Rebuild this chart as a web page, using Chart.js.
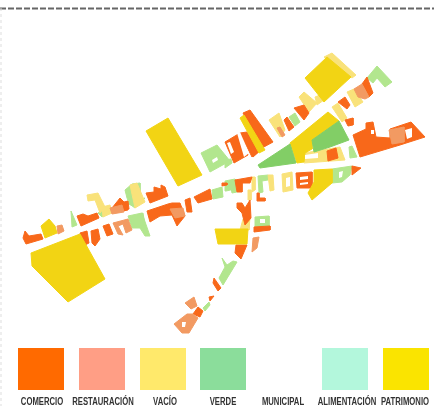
<!DOCTYPE html>
<html>
<head>
<meta charset="utf-8">
<script src="https://cdn.jsdelivr.net/npm/chart.js@4"></script>
<style>
html, body { margin: 0; padding: 0; background: #fff; overflow: hidden; }
#wrap { position: relative; width: 434px; height: 406px; overflow: hidden; }
#mapa { position: absolute; left: 0; top: 0; filter: blur(0.6px); }
.sw { position: absolute; top: 348px; height: 42px; }
.lb { position: absolute; top: 395px; width: 100px; text-align: center; white-space: nowrap;
  font: bold 11px "Liberation Sans", sans-serif; color: #333; transform: scaleX(0.7); }
</style>
</head>
<body>
<div id="wrap"><canvas id="mapa" width="434" height="406"></canvas></div>
<script>
// legend
var categorias = ['COMERCIO', 'RESTAURACIÓN', 'VACÍO', 'VERDE', 'MUNICIPAL', 'ALIMENTACIÓN', 'PATRIMONIO'];
var coloresLeyenda = ['#ff6a00', '#ff9e85', '#ffe96b', '#8bdd9b', '#ffffff', '#b3f7dc', '#fae400'];
var swatchX = [18, 79, 140, 200, 261, 322, 383];
var labelX = [42, 103, 165, 223, 283, 347, 405];

// blocks, [x, y] in picture units
var verdeClaro = [
  [[201,153],[217,145],[230,161],[210,172]],
  [[125,190],[132,184],[140,183],[140,200],[130,205],[127,198]],
  [[98,213],[105,208],[108,213],[102,217]],
  [[71,211],[77,225],[72,227]],
  [[128,216],[142,213],[150,236],[145,236],[140,228],[132,228]],
  [[130,218],[143,213],[145,225],[135,227]],
  [[128,203],[145,198],[135,208]],
  [[212,190],[222,187],[223,197],[213,199]],
  [[230,183],[236,181],[237,192],[232,193]],
  [[225,160],[231,159],[232,163],[225,168]],
  [[225,181],[235,179],[235,189],[226,191]],
  [[258,176],[268,175],[268,180],[262,181],[263,192],[259,193]],
  [[289,117],[295,113],[300,122],[295,126]],
  [[367,78],[377,66],[392,82],[385,87],[377,78],[373,83]],
  [[332,169],[352,166],[350,175],[342,182],[332,183]],
  [[349,147],[352,146],[357,157],[350,158]],
  [[255,217],[269,216],[269,226],[255,227]],
  [[222,258],[227,265],[233,261],[237,262],[223,285],[219,278],[225,267]],
  [[203,308],[209,302],[210,305],[205,311]]
];
var palido = [
  [[87,195],[98,193],[105,207],[100,213],[95,200],[88,201]],
  [[102,207],[110,205],[112,213],[103,217]],
  [[130,185],[137,183],[145,202],[135,208]],
  [[243,219],[250,217],[249,230],[240,230]],
  [[248,190],[251,190],[251,200],[248,200]],
  [[269,120],[279,113],[285,130],[280,137]],
  [[268,175],[273,175],[274,190],[270,191]],
  [[282,174],[292,172],[293,190],[283,192]],
  [[299,97],[304,92],[317,103],[309,112]],
  [[315,97],[320,95],[324,100],[317,105]],
  [[324,57],[332,53],[356,75],[352,78]],
  [[347,92],[354,89],[363,102],[355,107]],
  [[332,107],[338,103],[347,118],[342,122]],
  [[304,153],[340,147],[345,160],[304,163]],
  [[252,177],[255,177],[255,190],[252,192]]
];
var comercio = [
  [[23,238],[25,231],[29,236],[41,234],[43,239],[26,244]],
  [[77,216],[83,214],[88,216],[97,213],[99,218],[81,226]],
  [[112,208],[120,198],[125,203],[128,210],[113,213]],
  [[120,203],[128,201],[129,209],[122,211]],
  [[146,193],[154,192],[154,187],[161,189],[161,185],[165,187],[168,196],[150,203]],
  [[80,233],[87,231],[89,243],[85,245]],
  [[91,231],[98,229],[100,239],[95,246],[92,243]],
  [[103,226],[109,224],[113,234],[107,236]],
  [[147,211],[168,204],[172,203],[180,203],[185,216],[177,226],[172,215],[160,216],[150,222]],
  [[185,200],[190,198],[192,212],[187,212]],
  [[194,197],[210,189],[212,199],[198,203]],
  [[222,183],[227,183],[227,185],[222,186]],
  [[235,180],[252,177],[250,183],[242,183],[242,192],[237,192]],
  [[237,203],[242,203],[245,208],[250,200],[251,218],[245,225],[242,213],[237,208]],
  [[257,193],[259,193],[259,198],[265,198],[265,201],[257,201]],
  [[225,142],[240,133],[248,155],[234,163]],
  [[240,133],[247,132],[260,150],[252,157]],
  [[243,113],[250,110],[273,142],[262,148]],
  [[250,143],[259,138],[261,150],[253,157]],
  [[284,120],[287,117],[294,127],[289,131]],
  [[294,108],[304,105],[309,113],[304,120]],
  [[362,84],[367,77],[373,93],[369,97]],
  [[338,102],[345,97],[350,105],[347,109]],
  [[345,120],[353,118],[353,125],[348,126]],
  [[353,135],[366,129],[366,123],[373,122],[376,137],[390,138],[390,129],[411,122],[425,137],[400,145],[360,157]],
  [[327,151],[336,148],[338,158],[328,161]],
  [[352,166],[361,168],[352,175]],
  [[296,173],[312,172],[312,188],[297,188]],
  [[254,227],[270,226],[270,230],[254,232]],
  [[236,245],[247,245],[241,259],[235,253]],
  [[214,278],[221,288],[218,291],[213,283]],
  [[209,297],[214,296],[210,301]],
  [[193,314],[198,307],[203,311],[200,317]]
];
var salmon = [
  [[57,226],[62,225],[64,231],[58,234]],
  [[110,208],[122,205],[124,212],[112,214]],
  [[113,223],[128,219],[132,230],[126,233],[123,224],[118,226],[123,235],[118,234]],
  [[170,209],[183,208],[185,216],[175,218]],
  [[277,128],[280,127],[285,135],[282,137]],
  [[354,89],[362,84],[369,97],[365,99],[358,97]],
  [[389,130],[404,127],[404,142],[392,144]],
  [[253,238],[259,237],[257,248],[252,252]],
  [[185,303],[194,297],[197,306],[191,309]],
  [[174,324],[187,314],[193,314],[198,318],[189,333],[182,333]]
];
var patrimonio = [
  [[31,253],[80,234],[105,279],[68,302],[32,266]],
  [[146,131],[168,118],[202,175],[178,186]],
  [[305,78],[327,57],[351,77],[324,102]],
  [[41,226],[49,219],[55,226],[57,233],[45,238]],
  [[240,118],[244,115],[265,150],[259,153]],
  [[290,143],[328,112],[339,121],[312,140],[312,149],[305,153],[304,162],[297,163]],
  [[314,170],[332,169],[332,183],[312,200],[308,193],[314,182]],
  [[215,229],[248,229],[247,244],[218,244]]
];
var verde = [
  [[258,165],[290,144],[296,163],[260,168]],
  [[312,140],[339,121],[349,140],[330,147],[314,152]]
];
var blanco = [
  [[227,143],[230,142],[234,152],[231,154]],
  [[237,133],[240,132],[249,153],[244,157]],
  [[212,160],[217,157],[218,160],[213,163]],
  [[286,178],[290,177],[290,186],[286,187]],
  [[300,177],[308,176],[308,179],[300,180]],
  [[300,183],[308,182],[308,184],[300,185]],
  [[305,155],[318,153],[318,158],[305,159]],
  [[405,130],[412,128],[412,137],[407,139]],
  [[371,130],[374,130],[374,134],[371,134]],
  [[182,322],[186,322],[185,327],[182,327]],
  [[339,172],[343,171],[342,177],[339,178]],
  [[260,219],[265,219],[265,223],[260,223]]
];
var lineaTop = [[0,8.5],[434,8.5]];
var lineaIzq = [[1,8],[1,406]];

function bloques(lista, color, borde) {
  return lista.map(function (p) {
    var pts = p.concat([p[0]]).map(function (c) { return { x: c[0], y: c[1] }; });
    return { data: pts, showLine: true, fill: 'shape', backgroundColor: color, borderColor: color, borderWidth: borde, pointRadius: 0, tension: 0 };
  });
}

function linea(p, color, dash, w) {
  return {
    data: p.map(function (c) { return { x: c[0], y: c[1] }; }),
    showLine: true, fill: false, borderColor: color, borderDash: dash, borderWidth: w, pointRadius: 0
  };
}

var capas = [].concat(
  bloques(verdeClaro, '#b2e68e', 1),
  bloques(palido, '#f9e27a', 1),
  bloques(comercio, '#f8681a', 1),
  bloques(salmon, '#f29a62', 1),
  bloques(patrimonio, '#f2d414', 1),
  bloques(verde, '#82ce66', 1),
  bloques(blanco, '#ffffff', 0),
  [linea(lineaTop, '#666666', [6, 2], 2), linea(lineaIzq, '#dddddd', [3, 3], 1)]
);

// first dataset is drawn on top, so flip it
const ctx = document.getElementById('mapa').getContext('2d');
const mapa = new Chart(ctx, {
  type: 'scatter',
  data: { datasets: capas.reverse() },
  options: {
    responsive: false,
    animation: false,
    layout: { padding: 0 },
    plugins: { legend: { display: false }, tooltip: { enabled: false } },
    scales: {
      x: { type: 'linear', min: 0, max: 434, display: false },
      y: { type: 'linear', min: 0, max: 406, reverse: true, display: false }
    }
  }
});

var wrap = document.getElementById('wrap');
categorias.forEach(function (nombre, i) {
  var s = document.createElement('div');
  s.className = 'sw';
  s.style.left = swatchX[i] + 'px';
  s.style.width = '46px';
  s.style.background = coloresLeyenda[i];
  wrap.appendChild(s);
  var l = document.createElement('div');
  l.className = 'lb';
  l.style.left = (labelX[i] - 50) + 'px';
  l.textContent = nombre;
  wrap.appendChild(l);
});
</script>
</body>
</html>
